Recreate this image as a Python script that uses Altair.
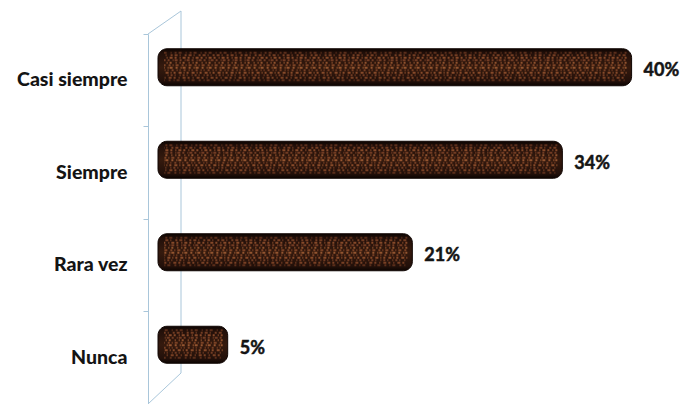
import altair as alt
import pandas as pd

# Survey answers and their shares
categorias = ["Casi siempre", "Siempre", "Rara vez", "Nunca"]
porcentajes = [40, 34, 21, 5]
etiquetas = [f"{p}%" for p in porcentajes]

df = pd.DataFrame({"categoria": categorias, "porcentaje": porcentajes, "etiqueta": etiquetas})

WALL = "#a9c6da"
TEXT = "#141414"
FONT = "Lato"

y_enc = alt.Y(
    "categoria:N",
    sort=categorias,
    scale=alt.Scale(paddingInner=0, paddingOuter=0),
    axis=alt.Axis(
        title=None, domainColor=WALL, tickColor=WALL, tickSize=5, bandPosition=0,
        labelFont=FONT, labelFontWeight=900, labelFontSize=19.5, labelColor=TEXT,
        labelPadding=16, labelLimit=200,
    ),
)
x_enc = alt.X("porcentaje:Q", scale=alt.Scale(domain=[0, 40], range=[22, 483.6]), axis=None)

# cylinder shading: near-black rims, dark brown body
cylinder = alt.Gradient(
    gradient="linear", x1=0, y1=0, x2=0, y2=1,
    stops=[
        alt.GradientStop(offset=0, color="#0c0401"),
        alt.GradientStop(offset=0.12, color="#22100a"),
        alt.GradientStop(offset=0.5, color="#351a0e"),
        alt.GradientStop(offset=0.88, color="#22100a"),
        alt.GradientStop(offset=1, color="#0c0401"),
    ],
)

bars = alt.Chart(df).mark_bar(
    size=37, yOffset=-13, x2Offset=-12, cornerRadius=9,
    color=cylinder, stroke="#0f0502", strokeWidth=1,
).encode(x=x_enc, x2=alt.datum(0), y=y_enc)

# speckled grain drawn as dashed strokes across each cylinder
grain = [
    (-27.5, [2, 3, 1, 4, 3, 2], 0, "#6e3820"),
    (-25, [1, 2, 3, 2, 2, 4], 2, "#8e4c2c"),
    (-22.5, [3, 2, 1, 3, 2, 2], 1, "#a65c34"),
    (-20, [1, 3, 2, 2, 3, 1], 3, "#8a4a2c"),
    (-17.5, [2, 2, 1, 3, 1, 4], 0, "#b0673a"),
    (-15, [1, 2, 2, 3, 3, 2], 2, "#94502e"),
    (-12.5, [3, 1, 1, 3, 2, 3], 1, "#b46a3c"),
    (-10, [2, 3, 1, 2, 1, 3], 3, "#8e4c2c"),
    (-7.5, [1, 2, 3, 3, 2, 2], 0, "#a65c34"),
    (-5, [2, 2, 1, 4, 1, 2], 2, "#8a4a2c"),
    (-2.5, [1, 3, 2, 2, 3, 3], 1, "#94502e"),
    (0, [3, 2, 1, 3, 2, 4], 3, "#6e3820"),
]
grain_layers = [
    alt.Chart(df).mark_rule(
        yOffset=off, xOffset=-5, x2Offset=-6, strokeWidth=2,
        strokeDash=dash, strokeDashOffset=dash_off, color=col, opacity=0.75,
    ).encode(x=x_enc, x2=alt.datum(0), y=y_enc)
    for off, dash, dash_off, col in grain
]

valores = alt.Chart(df).mark_text(
    align="left", baseline="middle", dx=12, dy=-9,
    font=FONT, fontWeight="bold", fontSize=18, color=TEXT,
    stroke=TEXT, strokeWidth=0.5,
).encode(x=x_enc, y=y_enc, text="etiqueta:N")

# perspective wall behind the category axis
one = pd.DataFrame({"k": [0]})
wall_top = alt.Chart(one).mark_rule(color=WALL, strokeWidth=1).encode(
    x=alt.value(0), y=alt.value(0), x2=alt.value(33), y2=alt.value(-23))
wall_back = alt.Chart(one).mark_rule(color=WALL, strokeWidth=1).encode(
    x=alt.value(33), y=alt.value(-23), x2=alt.value(33), y2=alt.value(339))
wall_bottom = alt.Chart(one).mark_rule(color=WALL, strokeWidth=1).encode(
    x=alt.value(33), y=alt.value(339), x2=alt.value(0), y2=alt.value(370))

chart = alt.layer(
    wall_top, wall_back, wall_bottom, bars, *grain_layers, valores
).properties(
    width=539, height=370,
    autosize=alt.AutoSizeParams(type="none"),
    padding={"left": 148, "top": 34, "right": 0, "bottom": 0},
    background="white",
).configure_view(stroke=None)

chart.save("out.html", embed_options={"renderer": "svg", "actions": False})
